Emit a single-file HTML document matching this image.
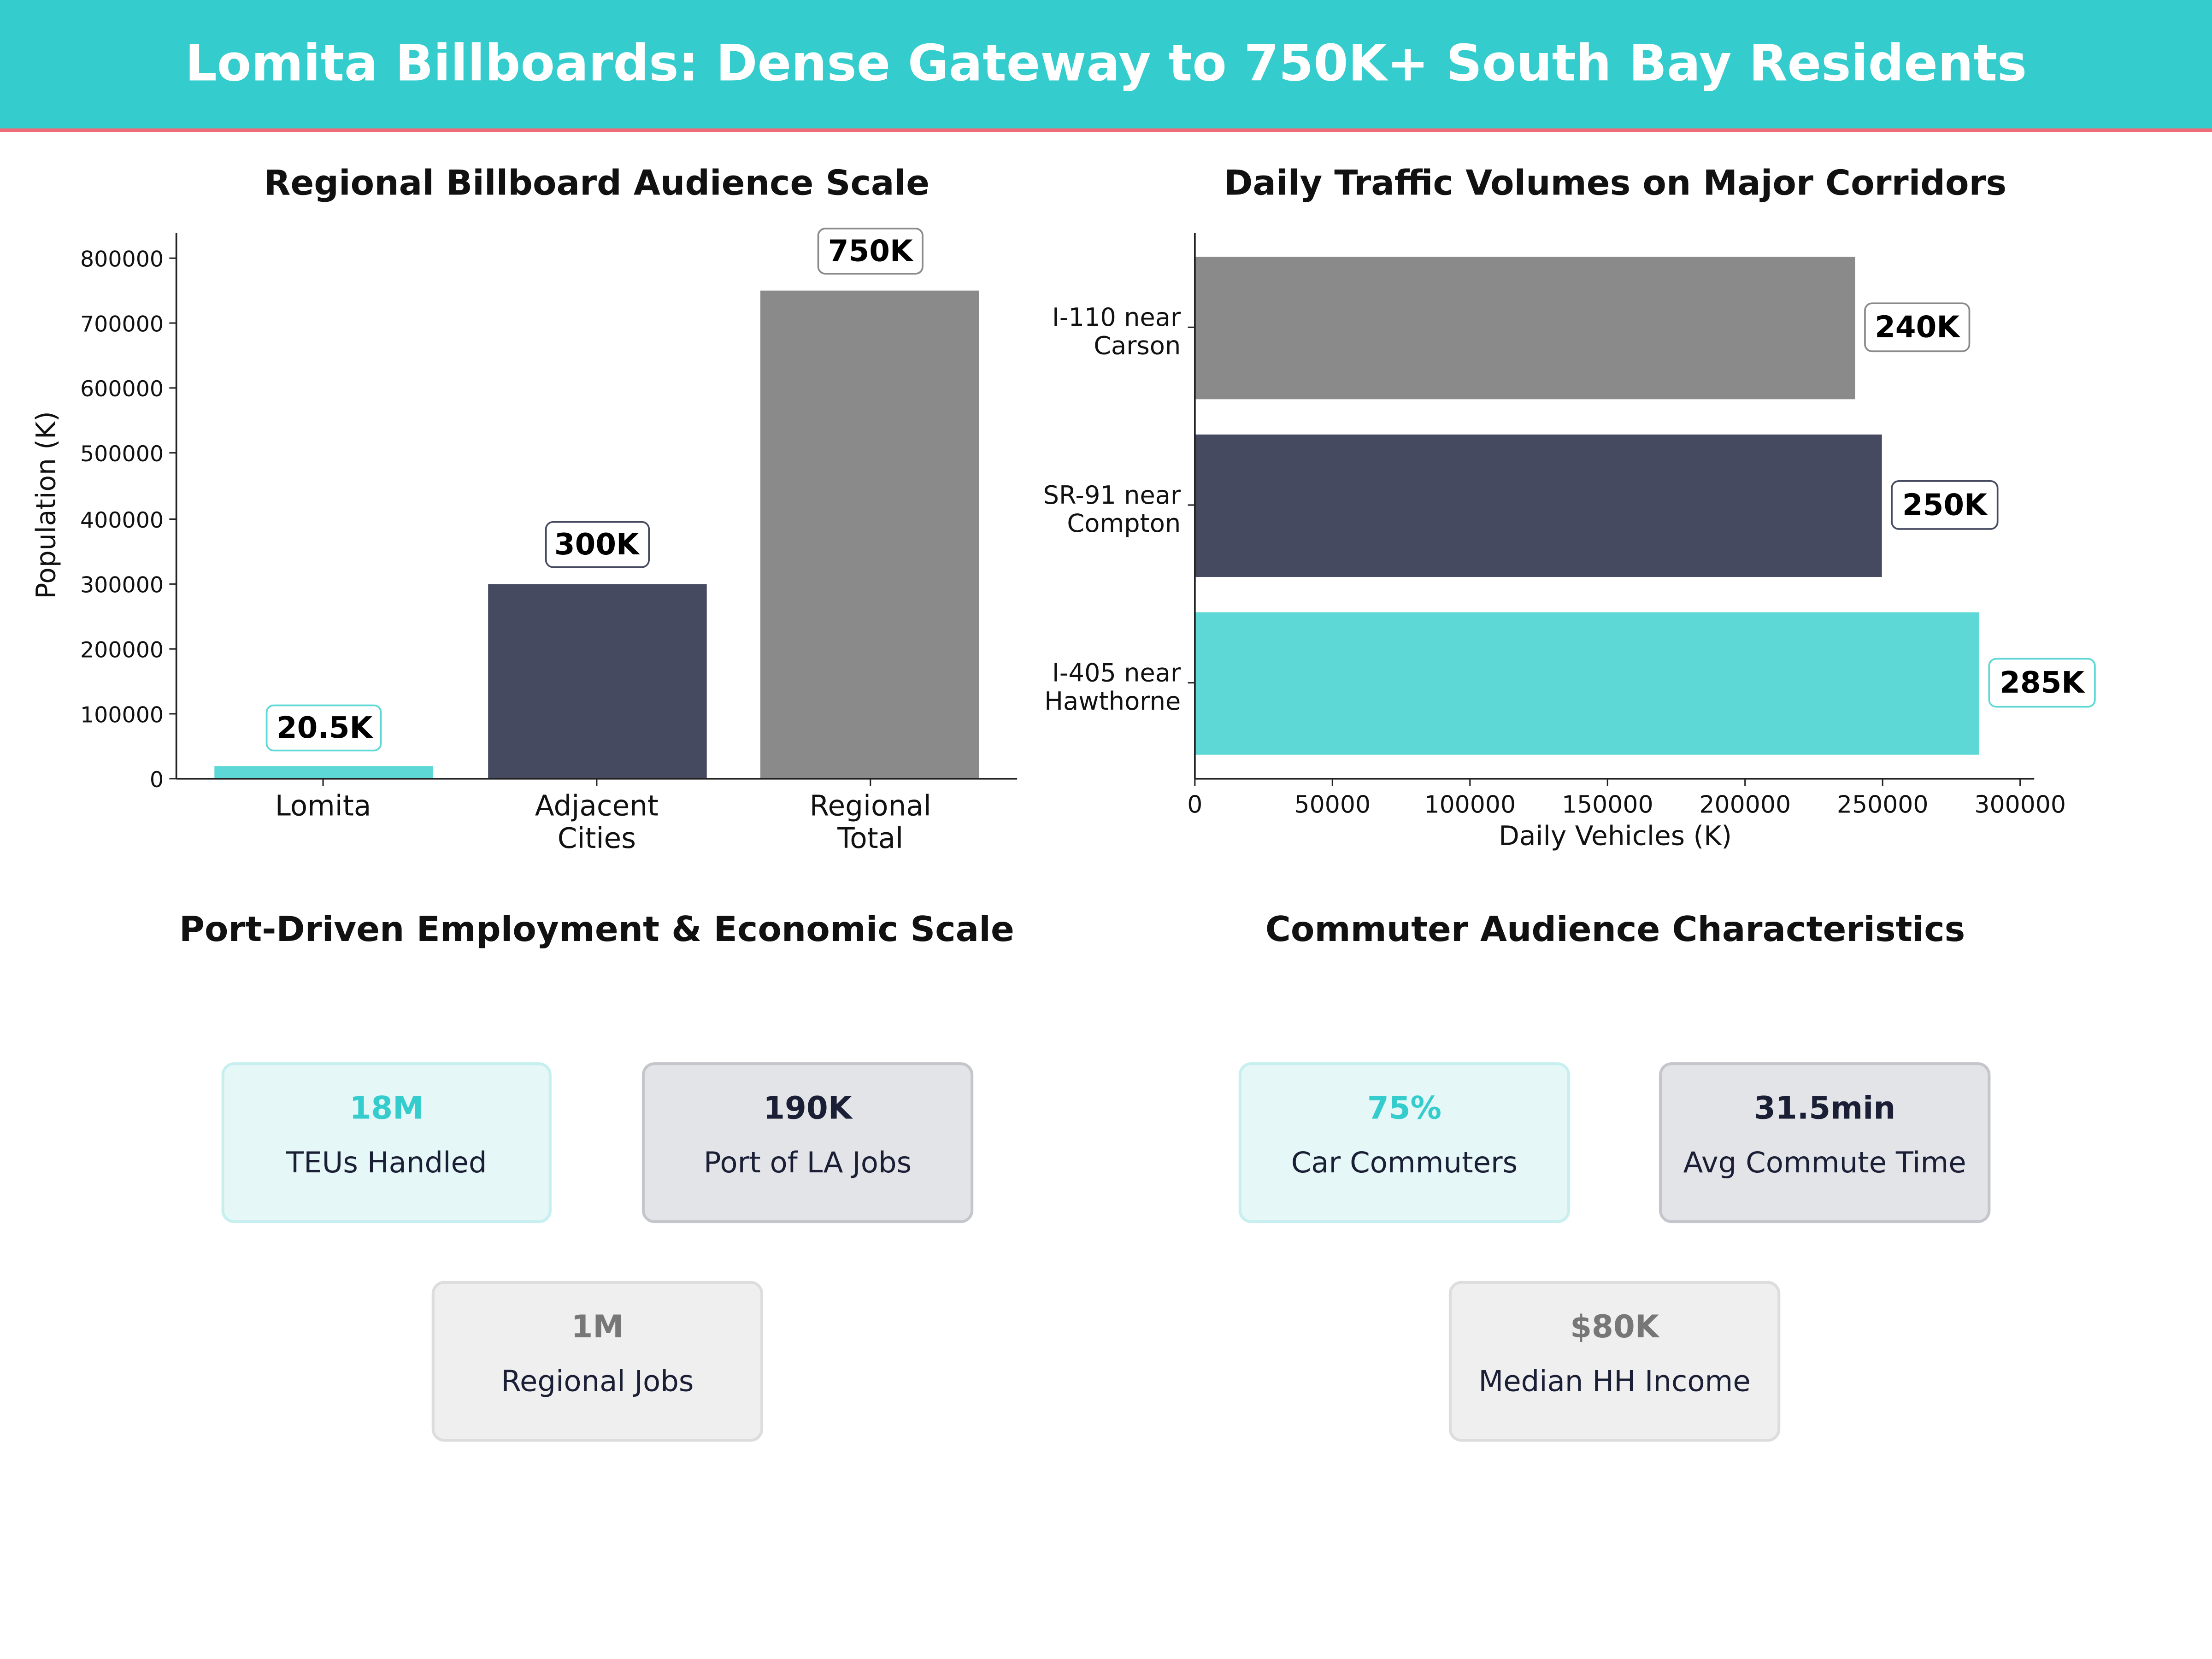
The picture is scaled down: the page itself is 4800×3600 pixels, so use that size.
<!DOCTYPE html>
<html><head><meta charset="utf-8"><style>
html,body{margin:0;padding:0;background:#fff;}
svg{display:block;}
text{font-family:"DejaVu Sans","Liberation Sans",sans-serif;}
</style></head><body>
<svg width="4800" height="3600" viewBox="0 0 1568 1176" xmlns="http://www.w3.org/2000/svg">
<rect x="0" y="0" width="1568" height="1176" fill="#fff"/>
<rect x="0" y="0" width="1568" height="92" fill="#34CCCC"/>
<rect x="0" y="91" width="1568" height="2.5" fill="#F06A78"/>
<text x="784" y="57" text-anchor="middle" font-size="35.4" font-weight="bold" fill="#fff">Lomita Billboards: Dense Gateway to 750K+ South Bay Residents</text>

<!-- Chart 1 -->
<text x="423" y="138" text-anchor="middle" font-size="24.5" font-weight="bold" fill="#111">Regional Billboard Audience Scale</text>
<rect x="152" y="543" width="155" height="9" fill="#5ED8D6"/>
<rect x="346" y="414" width="155" height="138" fill="#464A60"/>
<rect x="539" y="206" width="155" height="346" fill="#8A8A8A"/>
<line x1="125" y1="165" x2="125" y2="552" stroke="#222" stroke-width="1.2"/>
<line x1="125" y1="552" x2="721" y2="552" stroke="#222" stroke-width="1.2"/>
<g font-size="15.5" fill="#111" text-anchor="end">
<line x1="120" y1="552" x2="125" y2="552" stroke="#222"/><text x="116" y="558">0</text>
<line x1="120" y1="506" x2="125" y2="506" stroke="#222"/><text x="116" y="512">100000</text>
<line x1="120" y1="460" x2="125" y2="460" stroke="#222"/><text x="116" y="466">200000</text>
<line x1="120" y1="414" x2="125" y2="414" stroke="#222"/><text x="116" y="420">300000</text>
<line x1="120" y1="368" x2="125" y2="368" stroke="#222"/><text x="116" y="374">400000</text>
<line x1="120" y1="321" x2="125" y2="321" stroke="#222"/><text x="116" y="327">500000</text>
<line x1="120" y1="275" x2="125" y2="275" stroke="#222"/><text x="116" y="281">600000</text>
<line x1="120" y1="229" x2="125" y2="229" stroke="#222"/><text x="116" y="235">700000</text>
<line x1="120" y1="183" x2="125" y2="183" stroke="#222"/><text x="116" y="189">800000</text>
</g>
<text transform="translate(39,358) rotate(-90)" text-anchor="middle" font-size="19" fill="#111">Population (K)</text>
<g font-size="20" fill="#111" text-anchor="middle">
<line x1="229" y1="552" x2="229" y2="557" stroke="#222"/><text x="229" y="578">Lomita</text>
<line x1="423" y1="552" x2="423" y2="557" stroke="#222"/><text x="423" y="578">Adjacent</text><text x="423" y="601">Cities</text>
<line x1="617" y1="552" x2="617" y2="557" stroke="#222"/><text x="617" y="578">Regional</text><text x="617" y="601">Total</text>
</g>
<g font-size="21" font-weight="bold" fill="#000" text-anchor="middle">
<rect x="189" y="500" width="81" height="32" rx="5" fill="#fff" stroke="#5ED8D6" stroke-width="1.2"/><text x="230" y="523">20.5K</text>
<rect x="387" y="370" width="73" height="32" rx="5" fill="#fff" stroke="#464A60" stroke-width="1.2"/><text x="423" y="393">300K</text>
<rect x="580" y="162" width="74" height="32" rx="5" fill="#fff" stroke="#8A8A8A" stroke-width="1.2"/><text x="617" y="185">750K</text>
</g>

<!-- Chart 2 -->
<text x="1145" y="138" text-anchor="middle" font-size="24.5" font-weight="bold" fill="#111">Daily Traffic Volumes on Major Corridors</text>
<rect x="847" y="182" width="468" height="101" fill="#8A8A8A"/>
<rect x="847" y="308" width="487" height="101" fill="#464A60"/>
<rect x="847" y="434" width="556" height="101" fill="#5ED8D6"/>
<line x1="847" y1="165" x2="847" y2="552" stroke="#222" stroke-width="1.2"/>
<line x1="847" y1="552" x2="1442" y2="552" stroke="#222" stroke-width="1.2"/>
<g font-size="17" fill="#111" text-anchor="middle">
<line x1="847" y1="552" x2="847" y2="557" stroke="#222"/><text x="847" y="576">0</text>
<line x1="944.5" y1="552" x2="944.5" y2="557" stroke="#222"/><text x="944.5" y="576">50000</text>
<line x1="1042" y1="552" x2="1042" y2="557" stroke="#222"/><text x="1042" y="576">100000</text>
<line x1="1139.5" y1="552" x2="1139.5" y2="557" stroke="#222"/><text x="1139.5" y="576">150000</text>
<line x1="1237" y1="552" x2="1237" y2="557" stroke="#222"/><text x="1237" y="576">200000</text>
<line x1="1334.5" y1="552" x2="1334.5" y2="557" stroke="#222"/><text x="1334.5" y="576">250000</text>
<line x1="1432" y1="552" x2="1432" y2="557" stroke="#222"/><text x="1432" y="576">300000</text>
</g>
<text x="1145" y="599" text-anchor="middle" font-size="19" fill="#111">Daily Vehicles (K)</text>
<g font-size="17.7" fill="#111" text-anchor="end">
<line x1="842" y1="232" x2="847" y2="232" stroke="#222"/><text x="837" y="231">I-110 near</text><text x="837" y="251">Carson</text>
<line x1="842" y1="358" x2="847" y2="358" stroke="#222"/><text x="837" y="357">SR-91 near</text><text x="837" y="377">Compton</text>
<line x1="842" y1="484" x2="847" y2="484" stroke="#222"/><text x="837" y="483">I-405 near</text><text x="837" y="503">Hawthorne</text>
</g>
<g font-size="21" font-weight="bold" fill="#000" text-anchor="middle">
<rect x="1322" y="215" width="74" height="34" rx="5" fill="#fff" stroke="#8A8A8A" stroke-width="1.2"/><text x="1359" y="239">240K</text>
<rect x="1341" y="341" width="75" height="34" rx="5" fill="#fff" stroke="#464A60" stroke-width="1.2"/><text x="1378.5" y="365">250K</text>
<rect x="1410" y="467" width="75" height="34" rx="5" fill="#fff" stroke="#5ED8D6" stroke-width="1.2"/><text x="1447.5" y="491">285K</text>
</g>

<!-- Bottom left -->
<text x="423" y="667" text-anchor="middle" font-size="24.5" font-weight="bold" fill="#111">Port-Driven Employment &amp; Economic Scale</text>
<rect x="158" y="754" width="232" height="112" rx="8" fill="#E6F7F7" stroke="#C8EFEF" stroke-width="2"/>
<text x="274" y="793" text-anchor="middle" font-size="22" font-weight="bold" fill="#34CCCC">18M</text>
<text x="274" y="831" text-anchor="middle" font-size="20.4" fill="#1A1F36">TEUs Handled</text>
<rect x="456" y="754" width="233" height="112" rx="8" fill="#E3E4E8" stroke="#C5C6CC" stroke-width="2"/>
<text x="572.5" y="793" text-anchor="middle" font-size="22" font-weight="bold" fill="#1A1F36">190K</text>
<text x="572.5" y="831" text-anchor="middle" font-size="20.4" fill="#1A1F36">Port of LA Jobs</text>
<rect x="307" y="909" width="233" height="112" rx="8" fill="#EFEFEF" stroke="#DDDDDD" stroke-width="2"/>
<text x="423.5" y="948" text-anchor="middle" font-size="22" font-weight="bold" fill="#777">1M</text>
<text x="423.5" y="986" text-anchor="middle" font-size="20.4" fill="#1A1F36">Regional Jobs</text>

<!-- Bottom right -->
<text x="1145" y="667" text-anchor="middle" font-size="24.5" font-weight="bold" fill="#111">Commuter Audience Characteristics</text>
<rect x="879" y="754" width="233" height="112" rx="8" fill="#E6F7F7" stroke="#C8EFEF" stroke-width="2"/>
<text x="995.5" y="793" text-anchor="middle" font-size="22" font-weight="bold" fill="#34CCCC">75%</text>
<text x="995.5" y="831" text-anchor="middle" font-size="20.4" fill="#1A1F36">Car Commuters</text>
<rect x="1177" y="754" width="233" height="112" rx="8" fill="#E3E4E8" stroke="#C5C6CC" stroke-width="2"/>
<text x="1293.5" y="793" text-anchor="middle" font-size="22" font-weight="bold" fill="#1A1F36">31.5min</text>
<text x="1293.5" y="831" text-anchor="middle" font-size="20.4" fill="#1A1F36">Avg Commute Time</text>
<rect x="1028" y="909" width="233" height="112" rx="8" fill="#EFEFEF" stroke="#DDDDDD" stroke-width="2"/>
<text x="1144.5" y="948" text-anchor="middle" font-size="22" font-weight="bold" fill="#777">$80K</text>
<text x="1144.5" y="986" text-anchor="middle" font-size="20.4" fill="#1A1F36">Median HH Income</text>
</svg>
</body></html>
